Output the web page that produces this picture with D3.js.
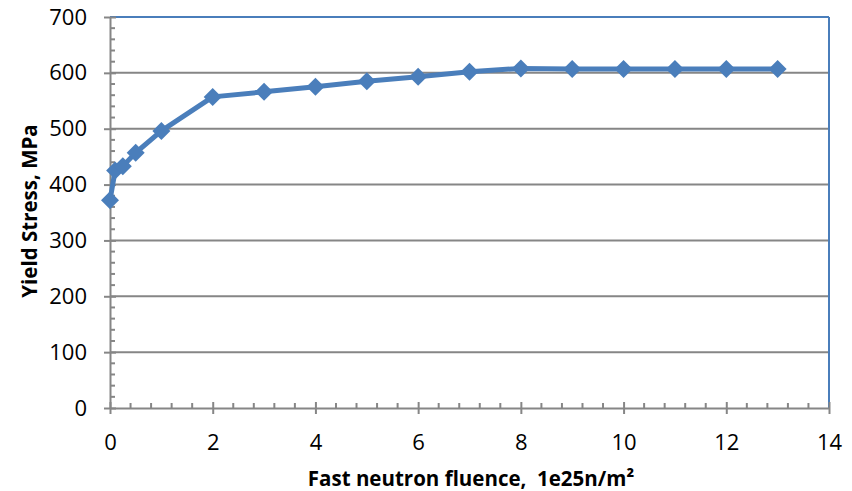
<!DOCTYPE html>
<html>
<head>
<meta charset="utf-8">
<script src="https://cdn.jsdelivr.net/npm/d3@7"></script>
<style>
  body { margin: 0; background: #fff; }
  text { font-family: "Open Sans", "Liberation Sans", sans-serif; }
</style>
</head>
<body>
<div id="chart"></div>
<script>
// data
var fluence = [0, 0.1, 0.25, 0.5, 1, 2, 3, 4, 5, 6, 7, 8, 9, 10, 11, 12, 13];
var yieldStress = [372, 425, 433, 457, 496, 557, 566, 575, 585, 593, 602, 608, 607, 607, 607, 607, 607];
var xTicks = [0, 2, 4, 6, 8, 10, 12, 14];
var yTicks = [0, 100, 200, 300, 400, 500, 600, 700];

var width = 852, height = 491;
var plotLeft = 110, plotRight = 829, plotTop = 17, plotBottom = 408;
var grey = "#868686", blue = "#4a7ebb";

var svg = d3.select("#chart").append("svg").attr("width", width).attr("height", height);

var x = d3.scaleLinear().domain([0, 14]).range([plotLeft, plotRight]);
var y = d3.scaleLinear().domain([0, 700]).range([plotBottom, plotTop]);

// horizontal gridlines
svg.selectAll(".grid").data(yTicks.slice(1, -1)).enter().append("line")
  .attr("x1", plotLeft).attr("x2", plotRight)
  .attr("y1", function(d) { return y(d); }).attr("y2", function(d) { return y(d); })
  .attr("stroke", grey).attr("stroke-width", 2);

// plot border, top and right are blue
svg.append("line").attr("x1", plotLeft).attr("x2", plotRight).attr("y1", plotTop).attr("y2", plotTop)
  .attr("stroke", blue).attr("stroke-width", 2);
svg.append("line").attr("x1", plotRight).attr("x2", plotRight).attr("y1", plotTop).attr("y2", plotBottom)
  .attr("stroke", blue).attr("stroke-width", 2);

// minor ticks
var yMinor = d3.range(20, 700, 20).filter(function(d) { return d % 100 != 0; });
svg.selectAll(".ymin").data(yMinor).enter().append("line")
  .attr("x1", plotLeft).attr("x2", plotLeft + 5)
  .attr("y1", function(d) { return y(d); }).attr("y2", function(d) { return y(d); })
  .attr("stroke", grey).attr("stroke-width", 2);
var xMinor = d3.range(0.4, 14, 0.4).filter(function(d) { return Math.abs(d / 2 - Math.round(d / 2)) > 0.01; });
svg.selectAll(".xmin").data(xMinor).enter().append("line")
  .attr("x1", function(d) { return x(d); }).attr("x2", function(d) { return x(d); })
  .attr("y1", plotBottom).attr("y2", plotBottom - 5)
  .attr("stroke", grey).attr("stroke-width", 2);

// axes
var yAxis = svg.append("g").attr("transform", "translate(" + plotLeft + ",0)")
  .call(d3.axisLeft(y).tickValues(yTicks).tickSizeInner(6).tickSizeOuter(0).tickPadding(17));
var xAxis = svg.append("g").attr("transform", "translate(0," + plotBottom + ")")
  .call(d3.axisBottom(x).tickValues(xTicks).tickSizeInner(6).tickSizeOuter(0).tickPadding(20));

[yAxis, xAxis].forEach(function(a) {
  a.select(".domain").attr("stroke", grey).attr("stroke-width", 2);
  a.selectAll(".tick line").attr("stroke", grey).attr("stroke-width", 2);
  a.selectAll(".tick text").attr("font-size", 22).attr("fill", "#000");
});
// major ticks cross the axis
yAxis.selectAll(".tick line").attr("x1", 6);
xAxis.selectAll(".tick line").attr("y1", -6);

// series line and markers
var line = d3.line().x(function(d, i) { return x(fluence[i]); }).y(function(d) { return y(d); });
svg.append("path").datum(yieldStress).attr("d", line)
  .attr("fill", "none").attr("stroke", blue).attr("stroke-width", 5).attr("stroke-linejoin", "round");

svg.selectAll(".pt").data(yieldStress).enter().append("path")
  .attr("d", "M0,-9L9,0L0,9L-9,0Z")
  .attr("transform", function(d, i) { return "translate(" + x(fluence[i]) + "," + y(d) + ")"; })
  .attr("fill", blue);

// axis titles
svg.append("text").attr("x", 471).attr("y", 486)
  .attr("text-anchor", "middle").attr("font-size", 20.5).attr("font-weight", "bold")
  .style("white-space", "pre")
  .text("Fast neutron fluence,  1e25n/m²");
svg.append("text").attr("transform", "translate(37,211) rotate(-90)")
  .attr("text-anchor", "middle").attr("font-size", 20.5).attr("font-weight", "bold")
  .text("Yield Stress, MPa");
</script>
</body>
</html>
